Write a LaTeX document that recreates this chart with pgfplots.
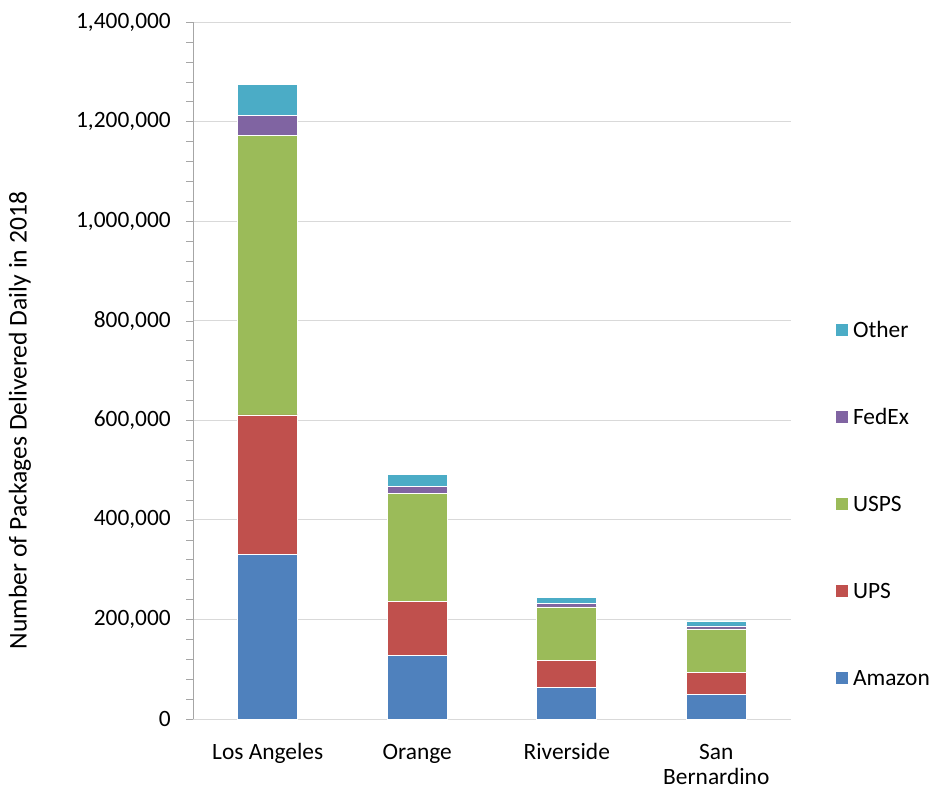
\documentclass[border=0pt]{standalone}
\usepackage{fontspec}
\setmainfont{Carlito}
\usepackage{pgfplots}
\usepackage{pgfplotstable}
\pgfplotsset{compat=1.18}

\definecolor{cAmazon}{HTML}{4F81BD}
\definecolor{cUPS}{HTML}{C0504D}
\definecolor{cUSPS}{HTML}{9BBB59}
\definecolor{cFedEx}{HTML}{8064A2}
\definecolor{cOther}{HTML}{4BACC6}
\definecolor{gridgray}{HTML}{D9D9D9}
\definecolor{axisgray}{HTML}{A6A6A6}

% packages per day
\pgfplotstableread{
x Amazon UPS USPS FedEx Other
0 331000 280000 562000 39000 63000
1 128000 108000 217000 15000 24000
2 63000 54000 108000 7000 12000
3 50000 44000 87000 6000 10000
}\deliveries

\begin{document}
\fontsize{11.7}{14}\selectfont
\begin{tikzpicture}
\useasboundingbox (-96.5pt,-35pt) rectangle (371pt,359.5pt);
\begin{axis}[
    at={(0pt,0pt)}, anchor=south west,
    scale only axis,
    width=299pt, height=348.5pt,
    ybar stacked,
    bar width=30pt,
    xmin=-0.5, xmax=3.5,
    ymin=0, ymax=1400000,
    enlargelimits=false,
    axis x line=bottom,
    axis y line=left,
    axis line style={-},
    x axis line style={draw=gridgray},
    y axis line style={draw=axisgray},
    xtick=data,
    xticklabels={Los Angeles, Orange, Riverside,
        {\begin{tabular}[t]{@{}c@{}}San\\Bernardino\end{tabular}}},
    x tick style={draw=none},
    xticklabel style={font=\fontsize{11.7}{12.8}\selectfont,
        anchor=base, yshift=-16.5pt},
    ytick={0,200000,...,1400000},
    minor y tick num=4,
    y tick style={draw=axisgray},
    tick align=outside,
    major tick length=3.5pt,
    minor tick length=3.5pt,
    ymajorgrids,
    major grid style={draw=gridgray},
    scaled y ticks=false,
    yticklabel style={xshift=-3.5pt, /pgf/number format/.cd, fixed, 1000 sep={,}, assume math mode=true},
    ylabel={Number of Packages Delivered Daily in 2018},
    ylabel style={at={(axis description cs:-0.2893,0.4283)}, anchor=center,
        font=\fontsize{12.8}{15}\selectfont},
    reverse legend,
    legend cell align=left,
    legend style={draw=none, fill=none, inner sep=0pt,
        at={(axis description cs:1.0736,0.3092)}, anchor=west,
        row sep=35.5pt,
        nodes={inner ysep=0pt, text height=8pt, text depth=0pt}},
    legend image code/.code={\fill[#1] (0pt,-3.25pt) rectangle (6.5pt,3.25pt);},
    every axis plot/.append style={draw=white, line width=0.3pt},
]
\addplot[fill=cAmazon] table[x=x, y=Amazon] {\deliveries};
\addplot[fill=cUPS] table[x=x, y=UPS] {\deliveries};
\addplot[fill=cUSPS] table[x=x, y=USPS] {\deliveries};
\addplot[fill=cFedEx] table[x=x, y=FedEx] {\deliveries};
\addplot[fill=cOther] table[x=x, y=Other] {\deliveries};
\legend{Amazon, UPS, USPS, FedEx, Other}
\end{axis}
\end{tikzpicture}
\end{document}
